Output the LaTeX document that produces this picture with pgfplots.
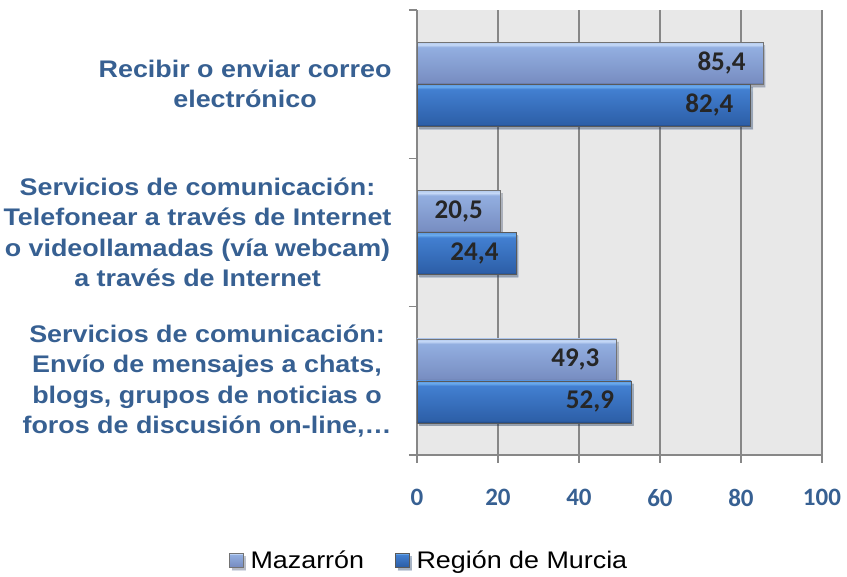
\documentclass[border=0pt]{standalone}
\usepackage{fontspec}
\setmainfont{Liberation Sans}
\newfontfamily\catfont[FakeStretch=1.12]{Liberation Sans}
\newfontfamily\calibri{Carlito}
\usepackage{pgfplots}
\pgfplotsset{compat=1.18}

\definecolor{labblue}{HTML}{376092}
\definecolor{gridgray}{HTML}{878787}
\definecolor{valtext}{HTML}{262626}

% bevelled bar fills (path maps to 25bp..75bp, bottom to top)
\pgfdeclareverticalshading{mazshade}{100bp}{%
  rgb(0bp)=(0.357,0.424,0.588); rgb(25bp)=(0.357,0.424,0.588);
  rgb(27.5bp)=(0.470,0.555,0.760); rgb(69bp)=(0.575,0.685,0.880);
  rgb(72bp)=(0.776,0.851,0.969); rgb(75bp)=(0.700,0.790,0.930);
  rgb(100bp)=(0.700,0.790,0.930)}
\pgfdeclareverticalshading{murshade}{100bp}{%
  rgb(0bp)=(0.122,0.259,0.467); rgb(25bp)=(0.122,0.259,0.467);
  rgb(27.5bp)=(0.176,0.373,0.659); rgb(69bp)=(0.260,0.500,0.820);
  rgb(72bp)=(0.420,0.670,0.930); rgb(75bp)=(0.360,0.600,0.880);
  rgb(100bp)=(0.360,0.600,0.880)}

\pgfplotsset{
  barshadow/.style={preaction={fill=black, fill opacity=0.22, draw=none,
    transform canvas={shift={(2.5pt,-3pt)}}}},
  mazbar/.style={barshadow, shading=mazshade, draw=black!55, line width=0.6pt, bar shift=21pt},
  murbar/.style={barshadow, shading=murshade, draw=black!65, line width=0.6pt, bar shift=-21pt},
}

\begin{document}
\begin{tikzpicture}
\begin{axis}[
  scale only axis, width=405pt, height=445pt,
  xmin=0, xmax=100, ymin=-0.5, ymax=2.5,
  xbar, bar width=42pt,
  axis x line*=bottom, axis y line*=left,
  axis line style={gridgray, line width=1.2pt},
  axis background/.style={fill=gray!18},
  xtick={0,20,...,100}, xmajorgrids,
  grid style={gridgray, line width=1.2pt},
  /pgf/number format/assume math mode=true,
  ytick={-0.5,0.5,1.5,2.5}, y tick label as interval,
  yticklabels={
    {Servicios de comunicación:\\Envío de mensajes a chats,\\blogs, grupos de noticias o\\foros de discusión on-line,…},
    {Servicios de comunicación:\\Telefonear a través de Internet\\o videollamadas (vía webcam)\\a través de Internet},
    {Recibir o enviar correo\\electrónico}},
  tick align=outside, major tick length=8pt,
  tick style={gridgray, line width=1.2pt},
  xticklabel style={font=\calibri\bfseries\fontsize{25}{30}\selectfont, text=labblue, yshift=-23pt},
  yticklabel style={font=\catfont\bfseries\fontsize{24}{30.5}\selectfont, text=labblue, align=center, xshift=-14pt},
  nodes near coords, point meta=explicit symbolic,
  every node near coord/.append style={anchor=east, inner sep=0pt, xshift=-17pt,
    font=\calibri\bfseries\fontsize{27}{30}\selectfont, text=valtext},
  legend style={at={(0.03,-0.236)}, anchor=center, draw=none, fill=none,
    legend columns=2, font=\catfont\fontsize{24}{30}\selectfont,
    /tikz/every odd column/.append style={column sep=5pt},
    /tikz/every even column/.append style={column sep=29pt}},
  legend image code/.code={\draw[#1, line width=0.5pt] (0pt,-7pt) rectangle (14pt,7pt);},
]
\addplot[mazbar] coordinates {(85.4,2) [85,4]};
\addlegendentry{Mazarrón}
\addplot[murbar] coordinates {(82.4,2) [82,4]};
\addlegendentry{Región de Murcia}
\addplot[mazbar, forget plot] coordinates {(20.5,1) [20,5]};
\addplot[murbar, forget plot] coordinates {(24.4,1) [24,4]};
\addplot[mazbar, forget plot] coordinates {(49.3,0) [49,3]};
\addplot[murbar, forget plot] coordinates {(52.9,0) [52,9]};
\coordinate (o) at (rel axis cs:0,0);
\end{axis}
\pgfresetboundingbox
\path (o) ++(-417pt,-122pt) rectangle ++(847pt,577pt);
\end{tikzpicture}
\end{document}
